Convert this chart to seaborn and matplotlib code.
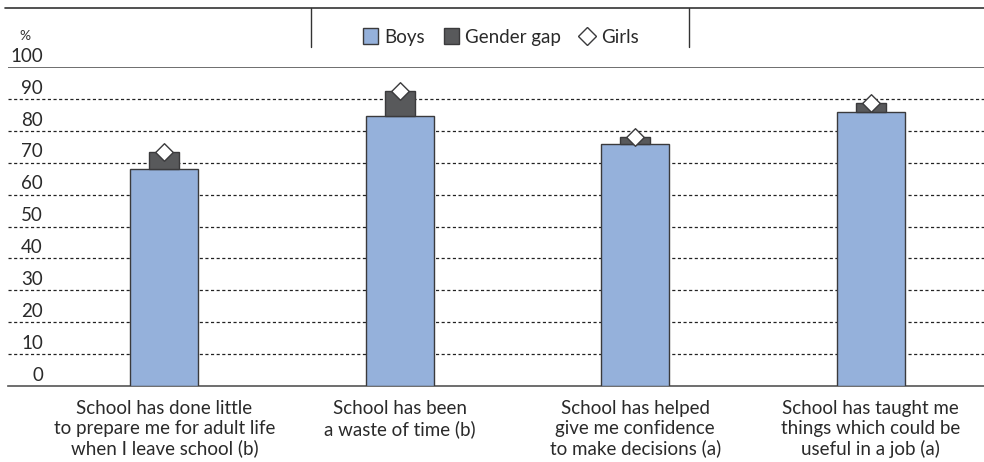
import matplotlib
matplotlib.use("Agg")
import matplotlib.pyplot as plt
from matplotlib.lines import Line2D
from matplotlib.patches import Patch
import seaborn as sns
import pandas as pd

categories = [
    "School has done little\nto prepare me for adult life\nwhen I leave school (b)",
    "School has been\na waste of time (b)\n",
    "School has helped\ngive me confidence\nto make decisions (a)",
    "School has taught me\nthings which could be\nuseful in a job (a)",
]
boys = [68.0, 84.6, 75.8, 85.8]
girls = [73.5, 92.6, 78.0, 88.7]
gap = [g - b for g, b in zip(girls, boys)]
yticks = [0, 10, 20, 30, 40, 50, 60, 70, 80, 90, 100]

df = pd.DataFrame({"cat": categories, "Boys": boys, "Girls": girls, "Gap": gap})

sns.set_theme(style="white")
plt.rcParams["font.family"] = ["Lato", "DejaVu Sans"]

fig = plt.figure(figsize=(9.84, 4.62), dpi=100)
ax = fig.add_axes([8 / 984, 76 / 462, 976 / 984, 319 / 462])

blue = "#95B1DB"
dark = "#58595B"
edge = "#3A3A3C"
txt = "#2a2a2a"

sns.barplot(data=df, x="cat", y="Boys", color=blue, width=0.29,
            edgecolor=edge, linewidth=1.0, saturation=1, ax=ax, zorder=3)
sns.barplot(data=df, x="cat", y="Gap", color=dark, width=0.127,
            bottom=df["Boys"].values, edgecolor=edge, linewidth=1.0,
            saturation=1, ax=ax, zorder=3)
sns.scatterplot(data=df, x="cat", y="Girls", marker="D", s=80,
                color="white", edgecolor=edge, linewidth=1.0, ax=ax,
                zorder=5, legend=False)

ax.set_xlim(-0.664, 3.481)
ax.set_ylim(0, 100)
for s in ["left", "right", "top"]:
    ax.spines[s].set_visible(False)
ax.spines["bottom"].set_color("#555555")
ax.spines["bottom"].set_linewidth(1.2)
ax.axhline(100, color="#555555", lw=1.2, zorder=2)
for t in yticks[1:-1]:
    ax.axhline(t, color="#222222", lw=0.9, ls=(0, (2.5, 2)), zorder=1)

ax.set_yticks(yticks)
ax.set_yticklabels([])
ax.tick_params(axis="y", length=0)
trans = ax.get_yaxis_transform()
for t in yticks:
    ax.text(35 / 976, t + 0.7, str(t), transform=trans, ha="right",
            va="bottom", fontsize=13.5, color=txt)

ax.set_xlabel("")
ax.set_ylabel("")
ax.tick_params(axis="x", length=0, pad=10, labelsize=13.5, colors=txt)
for lab in ax.get_xticklabels():
    lab.set_linespacing(1.2)
    lab.set_va("top")

fig.text(25 / 984, 1 - 36 / 462, "%", fontsize=10, color="#333333",
         ha="center", va="center")

# frame lines at top
fig.add_artist(Line2D([5 / 984, 1], [1 - 8 / 462, 1 - 8 / 462],
                      color="#333333", lw=1.2))
for xp in [311, 689]:
    fig.add_artist(Line2D([xp / 984, xp / 984], [1 - 8 / 462, 1 - 47 / 462],
                          color="#333333", lw=1.0))

handles = [
    Patch(facecolor=blue, edgecolor=edge, label="Boys"),
    Patch(facecolor=dark, edgecolor=edge, label="Gender gap"),
    Line2D([], [], marker="D", color="white", markeredgecolor=edge,
           markersize=9, linestyle="none", label="Girls"),
]
fig.legend(handles=handles, loc="center", bbox_to_anchor=(501 / 984, 1 - 37 / 462),
           ncol=3, frameon=False, fontsize=13.5, handlelength=0.8,
           handleheight=0.9, handletextpad=0.35, columnspacing=1.0,
           labelcolor=txt)

fig.savefig("out.png", dpi=100)
